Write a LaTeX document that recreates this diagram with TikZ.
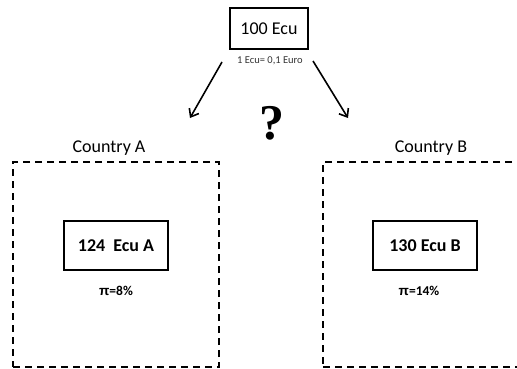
\documentclass[tikz,border=0pt]{standalone}
\usepackage{fontspec}
\setmainfont{Carlito}
\newfontfamily\qfont{Liberation Serif}
\newfontfamily\pifont{Liberation Sans}
\usetikzlibrary{arrows.meta}
\begin{document}
\begin{tikzpicture}[x=1pt,y=-1pt,
  solidbox/.style={draw=black,line width=1.8pt,rectangle,inner sep=0pt,align=center},
  dashbox/.style={draw=black,line width=1.8pt,dash pattern=on 7pt off 5pt,rectangle,inner sep=0pt},
  arr/.style={line width=1.6pt,-{Straight Barb[length=7pt,width=11pt,line width=1.6pt]}},
  lbl/.style={inner sep=0pt,font=\fontsize{18}{20}\selectfont}
]
\useasboundingbox (0,0) rectangle (517,369);
\clip (0,0) rectangle (517,369);
% top
\node[solidbox,minimum width=78pt,minimum height=41pt,font=\fontsize{18}{20}\selectfont] (top) at (269,28.5) {100 Ecu};
\node[inner sep=0pt,text=black!80,font=\fontsize{10.5}{12}\selectfont] (rate) at (270,61) {1 Ecu= 0,1 Euro};
\coordinate (ls) at (222,62);
\coordinate (le) at (190,118);
\coordinate (rs) at (313,61);
\coordinate (re) at (348,118);
\draw[arr] (ls) -- (le);
\draw[arr] (rs) -- (re);
\node[inner sep=0pt,font=\qfont\bfseries\fontsize{50}{56}\selectfont] (q) at (272,123) {?};
% country A
\node[lbl] (ca) at (109,148) {Country A};
\node[dashbox,minimum width=206pt,minimum height=205pt] (boxa) at (116,264.5) {};
\node[solidbox,minimum width=104pt,minimum height=49pt,font=\bfseries\fontsize{18}{20}\selectfont] (ea) at (116,245.5) {124\ \ Ecu A};
\node[inner sep=0pt,font=\bfseries\fontsize{13.5}{15}\selectfont] (pa) at (116,291) {{\pifont π}=8\%};
% country B
\node[lbl] (cb) at (431,148) {Country B};
\node[dashbox,minimum width=202pt,minimum height=205pt] (boxb) at (424,264.5) {};
\node[solidbox,minimum width=104pt,minimum height=49pt,font=\bfseries\fontsize{18}{20}\selectfont] (eb) at (425,245.5) {130 Ecu B};
\node[inner sep=0pt,font=\bfseries\fontsize{13.5}{15}\selectfont] (pb) at (419,291) {{\pifont π}=14\%};
\end{tikzpicture}
\end{document}
